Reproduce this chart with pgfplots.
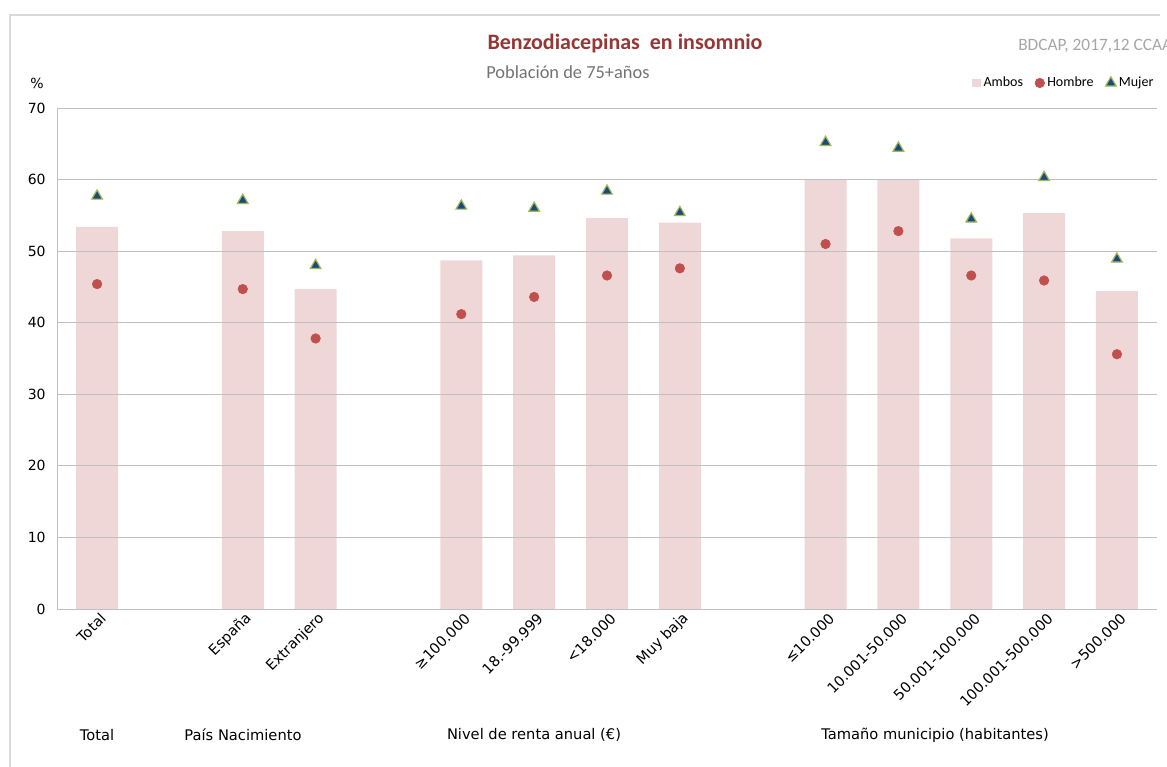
\documentclass[border=0pt]{standalone}
\usepackage{pgfplots}
\pgfplotsset{compat=1.18}
\usepackage{fontspec}
\setmainfont{Carlito}
\newfontfamily\dejavu{DejaVu Sans}
\definecolor{barcol}{HTML}{EFD7D7}
\definecolor{homcol}{HTML}{C0504D}
\definecolor{mujcol}{HTML}{1F497D}
\definecolor{mujedge}{HTML}{9BBB59}
\definecolor{titcol}{HTML}{953735}
\definecolor{gridcol}{HTML}{C0C0C0}
\definecolor{framecol}{HTML}{D9D9D9}
\begin{document}
\begin{tikzpicture}
\path[use as bounding box] (0,0) rectangle (875.25pt,-575.25pt);
\draw[framecol, line width=1pt] (7.5pt,-575.25pt) -- (7.5pt,-11.25pt) -- (870pt,-11.25pt);
\begin{axis}[
  at={(42.75pt,-456.75pt)}, anchor=south west,
  scale only axis, width=825pt, height=375.75pt,
  xmin=-0.55, xmax=14.55, ymin=0, ymax=70,
  ytick={0,10,...,70},
  ymajorgrids, grid style={gridcol, line width=0.6pt},
  axis on top,
  axis x line*=bottom, axis y line*=left,
  axis line style={gridcol, line width=0.6pt},
  tick style={draw=none},
  xtick={0,2,3,5,6,7,8,10,11,12,13,14},
  xticklabels={Total,España,Extranjero,≥100.000,18.-99.999,<18.000,Muy baja,≤10.000,10.001-50.000,50.001-100.000,100.001-500.000,>500.000},
  xticklabel style={rotate=45, anchor=east, font=\dejavu\fontsize{10.8}{12}\selectfont, text=black, xshift=3pt, yshift=-7pt},
  yticklabel style={font=\dejavu\fontsize{10.5}{12}\selectfont, text=black, xshift=-5pt},
  /pgf/number format/assume math mode=true,
  legend style={at={(1.003,1.05)}, anchor=east, draw=none, fill=none,
    legend columns=3, font=\fontsize{10.5}{12}\selectfont,
    /tikz/every even column/.style={column sep=7pt}},
  legend cell align=left,
  clip=false,
]
\addplot[ybar, bar width=31.5pt, bar shift=0pt, fill=barcol, draw=none,
  legend image code/.code={\fill[barcol] (0pt,-3.3pt) rectangle (6.6pt,3.3pt);}]
  coordinates {(0,53.4) (2,52.8) (3,44.7) (5,48.7) (6,49.4) (7,54.6) (8,54.0) (10,60.0) (11,60.0) (12,51.8) (13,55.3) (14,44.4)};
\addplot[only marks, mark=*, mark size=3.6pt, mark options={fill=homcol, draw=homcol}]
  coordinates {(0,45.4) (2,44.7) (3,37.8) (5,41.2) (6,43.6) (7,46.6) (8,47.6) (10,51.0) (11,52.8) (12,46.6) (13,45.9) (14,35.6)};
\addplot[only marks, mark=triangle*, mark size=4.6pt, mark options={fill=mujcol, draw=mujedge, line width=0.9pt}]
  coordinates {(0,57.7) (2,57.1) (3,48.0) (5,56.3) (6,56.0) (7,58.4) (8,55.4) (10,65.2) (11,64.4) (12,54.5) (13,60.3) (14,48.9)};
\legend{Ambos,Hombre,Mujer}
\end{axis}
\node[font=\dejavu\fontsize{10.5}{12}\selectfont] at (27.75pt,-62.25pt) {\%};
\node[font=\bfseries\fontsize{16.5}{19}\selectfont, text=titcol] at (468.75pt,-33pt) {Benzodiacepinas\ \ en insomnio};
\node[font=\fontsize{13.8}{16}\selectfont, text=black!55, anchor=west, inner sep=0pt] at (364.5pt,-54pt) {Población de 75+años};
\node[font=\fontsize{13}{15}\selectfont, text=black!35, anchor=west, inner sep=0pt] at (763.5pt,-34.5pt) {BDCAP, 2017,12 CCAA};
\begin{scope}[every node/.style={font=\dejavu\fontsize{11}{13}\selectfont}]
\node at (72.75pt,-551.25pt) {Total};
\node at (182.25pt,-551.25pt) {País Nacimiento};
\node at (400.5pt,-551.25pt) {Nivel de renta anual (€)};
\node at (701.25pt,-551.25pt) {Tamaño municipio (habitantes)};
\end{scope}
\end{tikzpicture}
\end{document}
